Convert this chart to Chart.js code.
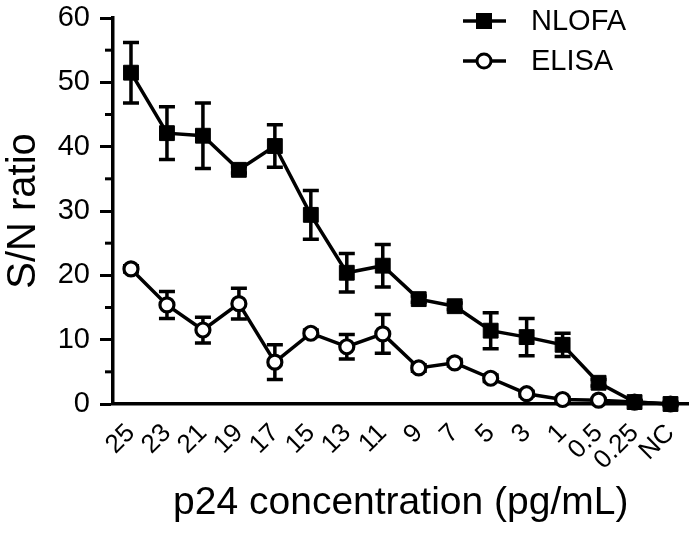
<!DOCTYPE html>
<html>
<head>
<meta charset="utf-8">
<script src="https://cdn.jsdelivr.net/npm/chart.js@4.4.0/dist/chart.umd.min.js"></script>
<style>
  html, body { margin: 0; padding: 0; background: #fff; }
  #c { display: block; }
</style>
</head>
<body>
<canvas id="c" width="700" height="537"></canvas>
<script>
const categories = ['25', '23', '21', '19', '17', '15', '13', '11', '9', '7', '5', '3', '1', '0.5', '0.25', 'NC'];
const nlofa      = [51.5, 42.1, 41.7, 36.4, 40.1, 29.4, 20.4, 21.5, 16.3, 15.2, 11.4, 10.4, 9.2, 3.3, 0.3, 0];
const nlofaErr   = [4.7, 4.1, 5.1, 0.5, 3.3, 3.8, 3.0, 3.3, 0.5, 0.5, 2.8, 2.9, 1.8, 0.5, 0.2, 0];
const elisa      = [21.0, 15.4, 11.5, 15.6, 6.5, 11.0, 8.9, 10.9, 5.6, 6.4, 4.0, 1.6, 0.7, 0.6, 0.3, 0];
const elisaErr   = [0.5, 2.1, 2.0, 2.4, 2.7, 0.5, 1.9, 3.0, 0.5, 0.5, 0.5, 0.4, 0.3, 0.2, 0.1, 0];
const yTicks     = [0, 10, 20, 30, 40, 50, 60];
const seriesNames = ['NLOFA', 'ELISA'];

const FONT = '"Liberation Sans", Arial, sans-serif';
const errors = [nlofaErr, elisaErr];

const errorBarPlugin = {
  id: 'errorBars',
  beforeDatasetsDraw(chart) {
    const ctx = chart.ctx;
    const y = chart.scales.y;
    ctx.save();
    ctx.strokeStyle = '#000';
    ctx.lineWidth = 3.5;
    chart.data.datasets.forEach((ds, di) => {
      const meta = chart.getDatasetMeta(di);
      meta.data.forEach((pt, i) => {
        const e = errors[di][i];
        if (!e) return;
        const v = ds.data[i];
        const top = y.getPixelForValue(v + e);
        const bot = y.getPixelForValue(v - e);
        const x = pt.x;
        ctx.beginPath();
        ctx.moveTo(x, top); ctx.lineTo(x, bot);
        ctx.moveTo(x - 8, top); ctx.lineTo(x + 8, top);
        ctx.moveTo(x - 8, bot); ctx.lineTo(x + 8, bot);
        ctx.stroke();
      });
    });
    ctx.restore();
  }
};

const minorTickPlugin = {
  id: 'minorTicks',
  afterDraw(chart) {
    const ctx = chart.ctx;
    const y = chart.scales.y;
    const left = chart.chartArea.left;
    ctx.save();
    ctx.strokeStyle = '#000';
    ctx.lineWidth = 3;
    for (let v = 5; v < 60; v += 10) {
      const py = y.getPixelForValue(v);
      ctx.beginPath();
      ctx.moveTo(left - 8, py); ctx.lineTo(left, py);
      ctx.stroke();
    }
    ctx.restore();
  }
};

const legendPlugin = {
  id: 'customLegend',
  afterDraw(chart) {
    const ctx = chart.ctx;
    ctx.save();
    const rows = [21, 61];
    chart.data.datasets.forEach((ds, di) => {
      const cy = rows[di];
      ctx.strokeStyle = '#000';
      ctx.lineWidth = 3.5;
      ctx.beginPath();
      ctx.moveTo(463, cy); ctx.lineTo(506, cy);
      ctx.stroke();
      if (di === 0) {
        ctx.fillStyle = '#000';
        ctx.fillRect(476, cy - 8, 16, 16);
      } else {
        ctx.fillStyle = '#fff';
        ctx.beginPath();
        ctx.arc(484, cy, 7, 0, Math.PI * 2);
        ctx.fill();
        ctx.lineWidth = 3;
        ctx.stroke();
      }
      ctx.fillStyle = '#000';
      ctx.font = '29px ' + FONT;
      ctx.textAlign = 'left';
      ctx.textBaseline = 'middle';
      ctx.fillText(seriesNames[di], 531, cy + 1);
    });
    ctx.restore();
  }
};

new Chart(document.getElementById('c'), {
  type: 'line',
  data: {
    labels: categories,
    datasets: [
      {
        label: seriesNames[0],
        data: nlofa,
        borderColor: '#000',
        backgroundColor: '#000',
        borderWidth: 3.5,
        pointStyle: 'rect',
        pointRadius: 10.5,
        pointBorderWidth: 1,
        pointBackgroundColor: '#000',
        pointBorderColor: '#000',
        tension: 0,
        clip: false
      },
      {
        label: seriesNames[1],
        data: elisa,
        borderColor: '#000',
        backgroundColor: '#fff',
        borderWidth: 3.5,
        pointStyle: 'circle',
        pointRadius: 7,
        pointBorderWidth: 3.2,
        pointBackgroundColor: '#fff',
        pointBorderColor: '#000',
        tension: 0,
        clip: false
      }
    ]
  },
  options: {
    responsive: false,
    animation: false,
    events: [],
    layout: { padding: { top: 18, right: 5, left: 0, bottom: 0 } },
    plugins: {
      legend: { display: false },
      tooltip: { enabled: false },
      title: { display: false }
    },
    scales: {
      x: {
        type: 'category',
        offset: true,
        grid: { display: false, drawOnChartArea: false, drawTicks: true, tickLength: 9, tickWidth: 3, tickColor: '#000', offset: false },
        border: { display: true, color: '#000', width: 3.5 },
        ticks: {
          color: '#000',
          font: { family: FONT, size: 26 },
          maxRotation: 45,
          minRotation: 45,
          autoSkip: false,
          padding: 5
        },
        title: {
          display: true,
          text: 'p24 concentration (pg/mL)',
          color: '#000',
          font: { family: FONT, size: 39 },
          padding: { top: 0, bottom: 10 }
        },
        afterFit(scale) {
          scale.height = 133;
          scale.paddingLeft = 0; scale.paddingRight = 0;
        }
      },
      y: {
        min: 0,
        max: 60,
        afterBuildTicks(scale) { scale.ticks = yTicks.map(v => ({ value: v })); },
        grid: { display: true, drawOnChartArea: false, drawTicks: true, tickLength: 13, tickWidth: 3, tickColor: '#000' },
        border: { display: true, color: '#000', width: 3.5 },
        ticks: {
          color: '#000',
          font: { family: FONT, size: 29 },
          padding: 10
        },
        title: {
          display: true,
          text: 'S/N ratio',
          color: '#000',
          font: { family: FONT, size: 40 },
          padding: { top: 0, bottom: 0 }
        },
        afterFit(scale) {
          scale.width = 113;
          scale.paddingTop = 0; scale.paddingBottom = 0;
        }
      }
    }
  },
  plugins: [errorBarPlugin, minorTickPlugin, legendPlugin]
});
</script>
</body>
</html>
